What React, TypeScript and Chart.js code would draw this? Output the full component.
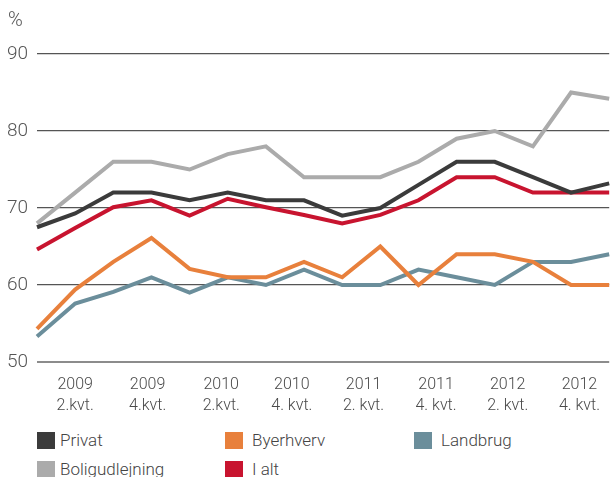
import React, { useEffect, useRef } from 'react';
import { Chart, registerables } from 'chart.js';

Chart.register(...registerables);

// Quarterly observations, 2009 1.kvt. – 2012 4.kvt.
const quarters = [
  '2009 1', '2009 2', '2009 3', '2009 4',
  '2010 1', '2010 2', '2010 3', '2010 4',
  '2011 1', '2011 2', '2011 3', '2011 4',
  '2012 1', '2012 2', '2012 3', '2012 4',
];

const privat = [67.5, 69.3, 72, 72, 71, 72, 71, 71, 69, 70, 73, 76, 76, 74, 72, 73.2];
const byerhverv = [54.3, 59.4, 63, 66.1, 62.1, 61, 61, 63, 61, 65, 60, 64, 64, 63, 60, 60];
const landbrug = [53.3, 57.6, 59.1, 61, 59, 61, 60, 62, 60, 60, 62, 61, 60, 63, 63, 64];
const boligudlejning = [68, 72, 76, 76, 75, 77, 78, 74, 74, 74, 76, 79, 80, 78, 85, 84.2];
const iAlt = [64.6, 67.4, 70.1, 71, 69, 71.2, 70.1, 69.1, 68, 69.1, 71, 74, 74, 72, 72, 72];

const xTickLabels = [
  ['2009', '2.kvt.'],
  ['2009', '4.kvt.'],
  ['2010', '2.kvt.'],
  ['2010', '4. kvt.'],
  ['2011', '2. kvt.'],
  ['2011', '4. kvt.'],
  ['2012', '2. kvt.'],
  ['2012', '4. kvt.'],
];
// where each x label sits, in quarter-index units
const xTickAt = [1, 2.9, 4.83, 6.68, 8.56, 10.46, 12.34, 14.22];

const yTicks = [50, 60, 70, 80, 90];

const FONT = "Roboto, 'Liberation Sans', Arial, sans-serif";

const series = [
  { label: 'Privat', data: privat, color: '#3b3b3b', order: 1 },
  { label: 'Byerhverv', data: byerhverv, color: '#e8803c', order: 4 },
  { label: 'Landbrug', data: landbrug, color: '#6b8e9b', order: 5 },
  { label: 'Boligudlejning', data: boligudlejning, color: '#ababab', order: 3 },
  { label: 'I alt', data: iAlt, color: '#c8142f', order: 2 },
];

const legendPos = [
  { left: 37, top: 431, gap: 5 },
  { left: 225, top: 431, gap: 9 },
  { left: 414, top: 431, gap: 9 },
  { left: 37, top: 460, gap: 5 },
  { left: 225, top: 460, gap: 9 },
];

export default function App() {
  const canvasRef = useRef<HTMLCanvasElement | null>(null);

  useEffect(() => {
    if (!canvasRef.current) return;
    const chart = new Chart(canvasRef.current, {
      type: 'line',
      data: {
        datasets: series.map((s) => ({
          label: s.label,
          data: s.data.map((y, i) => ({ x: i, y })),
          borderColor: s.color,
          backgroundColor: s.color,
          borderWidth: 4,
          pointRadius: 0,
          tension: 0,
          order: s.order,
          clip: false as any,
        })),
      },
      options: {
        animation: false,
        responsive: false,
        maintainAspectRatio: false,
        layout: { padding: { top: 54, left: 0, right: 0, bottom: 0 } },
        plugins: {
          legend: { display: false },
          tooltip: { enabled: false },
        },
        scales: {
          x: {
            type: 'linear',
            min: 0,
            max: quarters.length - 1,
            afterBuildTicks: (axis: any) => {
              axis.ticks = xTickAt.map((v) => ({ value: v }));
            },
            afterFit: (axis: any) => {
              axis.height = 58;
            },
            grid: { display: false, drawTicks: false },
            border: { display: false },
            ticks: {
              autoSkip: false,
              maxRotation: 0,
              padding: 12,
              color: '#4a4a4a',
              font: { family: FONT, size: 16, weight: '300' as any, lineHeight: 1.35 },
              callback: (_v: any, i: number) => xTickLabels[i],
            },
          },
          y: {
            min: 50,
            max: 90,
            afterBuildTicks: (axis: any) => {
              axis.ticks = yTicks.map((v) => ({ value: v }));
            },
            afterFit: (axis: any) => {
              axis.width = 37;
            },
            border: { display: false },
            grid: {
              drawTicks: false,
              color: (ctx: any) => (ctx.tick && ctx.tick.value === 50 ? '#8c8c8c' : '#555555'),
              lineWidth: (ctx: any) => (ctx.tick && ctx.tick.value === 50 ? 2 : 1.3),
            },
            ticks: {
              padding: 9,
              color: '#555555',
              font: { family: FONT, size: 19, weight: '300' as any },
            },
          },
        },
      },
    });
    return () => chart.destroy();
  }, []);

  return (
    <div
      style={{
        position: 'absolute',
        left: 0,
        top: 0,
        width: 612,
        height: 477,
        background: '#ffffff',
        overflow: 'hidden',
        fontFamily: FONT,
      }}
    >
      <canvas ref={canvasRef} width={612} height={420} style={{ position: 'absolute', left: 0, top: 0 }} />
      <div
        style={{
          position: 'absolute',
          left: 8,
          top: 8,
          fontSize: 20,
          fontWeight: 300,
          color: '#555',
          lineHeight: '22px',
        }}
      >
        %
      </div>
      {series.map((s, i) => (
        <div
          key={s.label}
          style={{
            position: 'absolute',
            left: legendPos[i].left,
            top: legendPos[i].top,
            display: 'flex',
            alignItems: 'center',
            height: 18,
          }}
        >
          <div style={{ width: 18, height: 17, background: s.color, marginRight: legendPos[i].gap }} />
          <span style={{ fontSize: 17, fontWeight: 300, color: '#444', lineHeight: '18px' }}>{s.label}</span>
        </div>
      ))}
    </div>
  );
}
